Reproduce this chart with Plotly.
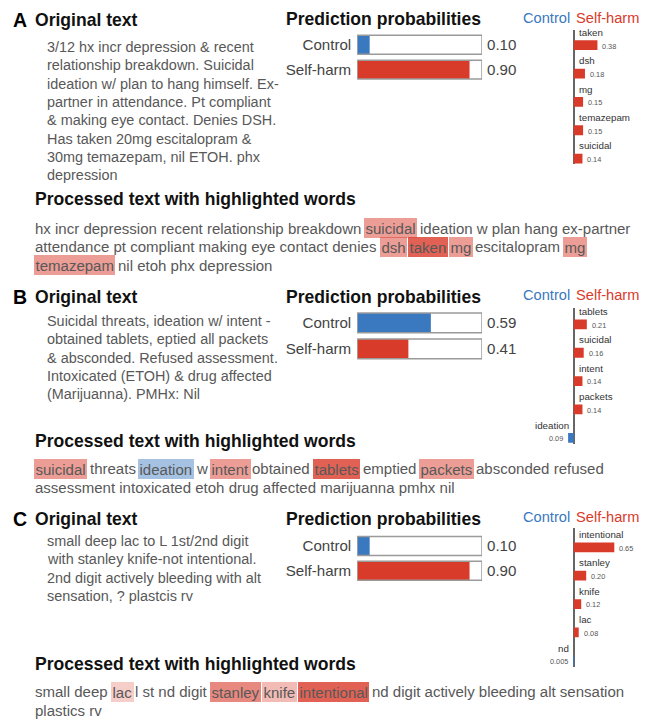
import plotly.graph_objects as go

# The page shows the figure inside an 8px body margin.  The figure is sized so
# that it fits the 650x727 window without overflow, and the reference pixel
# layout is mapped (slightly scaled) into it.
REF_W, REF_H = 650, 727
MARGIN = 8
W, H = REF_W - 2 * MARGIN, REF_H - 2 * MARGIN
SX = W / REF_W
FS = SX  # font scale
FONT = "Liberation Sans, Arial, Helvetica, sans-serif"
BLUE = "#3a78c0"
RED = "#d93b2b"
RED_RGB = (217, 59, 43)
BLUE_RGB = (58, 120, 192)
TEXT_GREY = "#585858"
TITLE_COLOR = "#111111"

# ---------------- data ----------------
PANELS = ["A", "B", "C"]

ORIGINAL_TEXT = {
    "A": ["3/12 hx incr depression & recent",
          "relationship breakdown. Suicidal",
          "ideation w/ plan to hang himself. Ex-",
          "partner in attendance. Pt compliant",
          "& making eye contact. Denies DSH.",
          "Has taken 20mg escitalopram &",
          "30mg temazepam, nil ETOH. phx",
          "depression"],
    "B": ["Suicidal threats, ideation w/ intent -",
          "obtained tablets, eptied all packets",
          "& absconded. Refused assessment.",
          "Intoxicated (ETOH) & drug affected",
          "(Marijuanna). PMHx: Nil"],
    "C": ["small deep lac to L 1st/2nd digit",
          "with stanley knife-not intentional.",
          "2nd digit actively bleeding with alt",
          "sensation, ? plastcis rv"],
}

PROB_CLASSES = ["Control", "Self-harm"]
PROBS = {"A": [0.10, 0.90], "B": [0.59, 0.41], "C": [0.10, 0.90]}

FEATURES = {
    "A": ["taken", "dsh", "mg", "temazepam", "suicidal"],
    "B": ["tablets", "suicidal", "intent", "packets", "ideation"],
    "C": ["intentional", "stanley", "knife", "lac", "nd"],
}
WEIGHTS = {
    "A": [0.38, 0.18, 0.15, 0.15, 0.14],
    "B": [0.21, 0.16, 0.14, 0.14, 0.09],
    "C": [0.65, 0.20, 0.12, 0.08, 0.005],
}
FEATURE_CLASS = {
    "A": ["Self-harm", "Self-harm", "Self-harm", "Self-harm", "Self-harm"],
    "B": ["Self-harm", "Self-harm", "Self-harm", "Self-harm", "Control"],
    "C": ["Self-harm", "Self-harm", "Self-harm", "Self-harm", "Control"],
}

PROCESSED_LINES = {
    "A": ["hx incr depression recent relationship breakdown suicidal ideation w plan hang ex-partner",
          "attendance pt compliant making eye contact denies dsh taken mg escitalopram mg",
          "temazepam nil etoh phx depression"],
    "B": ["suicidal threats ideation w intent obtained tablets emptied packets absconded refused",
          "assessment intoxicated etoh drug affected marijuanna pmhx nil"],
    "C": ["small deep lac l st nd digit stanley knife intentional nd digit actively bleeding alt sensation",
          "plastics rv"],
}

# ---------------- styles / layout ----------------
HIGHLIGHT_ALPHA = {
    "A": {"suicidal": 0.5, "dsh": 0.5, "taken": 0.8, "mg": 0.5, "temazepam": 0.5},
    "B": {"suicidal": 0.5, "ideation": 0.45, "intent": 0.5, "tablets": 0.8, "packets": 0.5},
    "C": {"lac": 0.25, "stanley": 0.6, "knife": 0.35, "intentional": 0.8, "nd": 0.0},
}

POS = {
    "A": dict(title_y=12, body_y0=40, pred_y=11, bar_y=(37.5, 63.0), head_y=10,
              feat_y0=38, axis_top=23, proc_title_y=195, proc_y0=225),
    "B": dict(title_y=295, body_y0=320, pred_y=295, bar_y=(322, 348.5), head_y=293,
              feat_y0=323.5, axis_top=307, proc_title_y=443, proc_y0=471),
    "C": dict(title_y=523, body_y0=545, pred_y=523, bar_y=(550, 575.5), head_y=520,
              feat_y0=551.5, axis_top=532, proc_title_y=671, proc_y0=699),
}

BODY_SIZE = 14.8 * FS
PROC_SIZE = 15.4 * FS
TITLE_SIZE = 18 * FS
LETTER_SIZE = 20 * FS
PROB_SIZE = 15.5 * FS
HEAD_SIZE = 15 * FS
FEAT_SIZE = 10 * FS
VAL_SIZE = 7.5 * FS
BODY_LS = 18.7
PROC_LS = 19.0
FEAT_STEP = 29.0

# Arial / Liberation Sans advance widths (1/1000 em)
AW = {' ': 278, '-': 333, 'a': 556, 'b': 556, 'c': 500, 'd': 556, 'e': 556, 'f': 278,
      'g': 556, 'h': 556, 'i': 222, 'j': 222, 'k': 500, 'l': 222, 'm': 833, 'n': 556,
      'o': 556, 'p': 556, 'q': 556, 'r': 333, 's': 500, 't': 278, 'u': 556, 'v': 500,
      'w': 722, 'x': 500, 'y': 500, 'z': 500}


def text_w_ref(s, size):
    """width in reference pixels of text drawn at the (figure) font size"""
    return sum(AW.get(ch, 556) for ch in s) * size / 1000.0 / SX


def px(x):
    return x / REF_W


def py(y):
    return 1 - y / REF_H


def esc(s):
    return s.replace("&", "&amp;")


def ann(text, x, y, size, color, xanchor="left", bold=False, **kw):
    t = esc(text)
    if bold:
        t = "<b>" + t + "</b>"
    d = dict(text=t, x=px(x), y=py(y), xref="paper", yref="paper",
             xanchor=xanchor, yanchor="middle", showarrow=False,
             font=dict(family=FONT, size=size, color=color),
             borderwidth=0, borderpad=0)
    d.update(kw)
    return d


fig = go.Figure()
annotations = []
layout_axes = {}

for pi, p in enumerate(PANELS):
    pos = POS[p]
    # letter and titles
    annotations.append(ann(p, 5, pos["title_y"], LETTER_SIZE, "#000", bold=True))
    annotations.append(ann("Original text", 28, pos["title_y"], TITLE_SIZE, TITLE_COLOR, bold=True))
    for li, line in enumerate(ORIGINAL_TEXT[p]):
        annotations.append(ann(line, 40, pos["body_y0"] + li * BODY_LS, BODY_SIZE, TEXT_GREY))
    annotations.append(ann("Prediction probabilities", 285, pos["pred_y"], TITLE_SIZE,
                           TITLE_COLOR, bold=True))
    annotations.append(ann("Processed text with highlighted words", 28, pos["proc_title_y"],
                           TITLE_SIZE, TITLE_COLOR, bold=True))

    # ---- prediction probability axes ----
    n1 = 2 * pi + 1
    xa1 = "x" if n1 == 1 else f"x{n1}"
    ya1 = "y" if n1 == 1 else f"y{n1}"
    b0, b1 = pos["bar_y"]
    half = (b1 - b0) / 2
    layout_axes["xaxis" if n1 == 1 else f"xaxis{n1}"] = dict(
        domain=[px(358), px(486)], range=[0, 1], visible=False, anchor=ya1, fixedrange=True)
    layout_axes["yaxis" if n1 == 1 else f"yaxis{n1}"] = dict(
        domain=[py(b1 + half), py(b0 - half)], type="category",
        categoryorder="array", categoryarray=PROB_CLASSES, autorange="reversed",
        anchor=xa1, showgrid=False, zeroline=False, showline=False, ticks="",
        ticklabelstandoff=5, tickfont=dict(family=FONT, size=PROB_SIZE, color="#444"),
        fixedrange=True)
    fig.add_trace(go.Bar(x=PROBS[p], y=PROB_CLASSES, orientation="h", width=0.76,
                         marker=dict(color=[BLUE, RED], line=dict(width=0)),
                         xaxis=xa1, yaxis=ya1, showlegend=False, hoverinfo="skip"))
    fig.add_trace(go.Bar(x=[1, 1], y=PROB_CLASSES, orientation="h", width=0.76,
                         marker=dict(color="rgba(0,0,0,0)", line=dict(color="#9a9a9a", width=1.5)),
                         xaxis=xa1, yaxis=ya1, showlegend=False, hoverinfo="skip"))
    for c, v in zip(PROB_CLASSES, PROBS[p]):
        annotations.append(dict(text=f"{v:.2f}", x=1, y=c, xref=xa1, yref=ya1,
                                xanchor="left", yanchor="middle", xshift=3, showarrow=False,
                                font=dict(family=FONT, size=PROB_SIZE, color="#444")))

    # ---- feature weight axes ----
    n2 = 2 * pi + 2
    xa2, ya2 = f"x{n2}", f"y{n2}"
    nfeat = len(FEATURES[p])
    top_val = (pos["feat_y0"] - pos["axis_top"]) / FEAT_STEP
    bottom_px = pos["feat_y0"] + (nfeat - 1) * FEAT_STEP + 6
    bot_val = -(nfeat - 1) - 6 / FEAT_STEP
    layout_axes[f"xaxis{n2}"] = dict(
        domain=[px(520), 1.0], range=[-60 / 64, 70 / 64], showgrid=False,
        showticklabels=False, ticks="", showline=False, zeroline=True,
        zerolinecolor="#666", zerolinewidth=2, anchor=ya2, fixedrange=True)
    layout_axes[f"yaxis{n2}"] = dict(
        domain=[py(bottom_px), py(pos["axis_top"])], range=[bot_val, top_val],
        showgrid=False, showticklabels=False, ticks="", zeroline=False,
        showline=False, anchor=xa2, fixedrange=True)
    signed = [w if c == "Self-harm" else -w for w, c in zip(WEIGHTS[p], FEATURE_CLASS[p])]
    ypos = [-i for i in range(nfeat)]
    colors = [RED if c == "Self-harm" else BLUE for c in FEATURE_CLASS[p]]
    fig.add_trace(go.Bar(x=signed, y=ypos, orientation="h", width=10 / FEAT_STEP,
                         marker=dict(color=colors, line=dict(width=0)),
                         xaxis=xa2, yaxis=ya2, showlegend=False, hoverinfo="skip"))
    for f, s, yv in zip(FEATURES[p], signed, ypos):
        pos_side = s >= 0
        annotations.append(dict(text=f, x=0, y=yv + 0.45, xref=xa2, yref=ya2,
                                xanchor="left" if pos_side else "right", yanchor="middle",
                                xshift=3 if pos_side else -3, showarrow=False,
                                font=dict(family=FONT, size=FEAT_SIZE, color="#333")))
        w = abs(s)
        lab = f"{w:.2f}" if w >= 0.01 else f"{w:.3f}"
        annotations.append(dict(text=lab, x=s, y=yv - 0.03, xref=xa2, yref=ya2,
                                xanchor="left" if pos_side else "right", yanchor="middle",
                                xshift=3 if pos_side else -3, showarrow=False,
                                font=dict(family=FONT, size=VAL_SIZE, color="#555")))
    # class header
    annotations.append(ann("Control", 576, pos["head_y"], HEAD_SIZE, BLUE, xanchor="right"))
    annotations.append(ann("Self-harm", 582, pos["head_y"], HEAD_SIZE, RED, xanchor="left"))

    # ---- processed text with highlights ----
    cls_of = dict(zip(FEATURES[p], FEATURE_CLASS[p]))
    alphas = HIGHLIGHT_ALPHA[p]
    sp = text_w_ref(" ", PROC_SIZE)
    for li, line in enumerate(PROCESSED_LINES[p]):
        yline = pos["proc_y0"] + li * PROC_LS
        cursor = 28.0
        run = []
        run_start = cursor

        def flush(run, run_start):
            if run:
                annotations.append(ann(" ".join(run), run_start, yline, PROC_SIZE, TEXT_GREY))

        for wd in line.split(" "):
            a = alphas.get(wd, 0.0)
            if wd in cls_of and a > 0:
                flush(run, run_start)
                run = []
                rgb = RED_RGB if cls_of[wd] == "Self-harm" else BLUE_RGB
                annotations.append(ann(wd, cursor - 1.5, yline, PROC_SIZE, TEXT_GREY,
                                       bgcolor=f"rgba({rgb[0]},{rgb[1]},{rgb[2]},{a})",
                                       borderpad=1.5))
                cursor += text_w_ref(wd, PROC_SIZE) + sp
                run_start = cursor
            else:
                if not run:
                    run_start = cursor
                run.append(wd)
                cursor += text_w_ref(wd, PROC_SIZE) + sp
        flush(run, run_start)

fig.update_layout(
    width=W, height=H, margin=dict(l=0, r=0, t=0, b=0),
    paper_bgcolor="white", plot_bgcolor="white", barmode="overlay",
    showlegend=False, annotations=annotations, **layout_axes)

fig.write_html("out.html")
